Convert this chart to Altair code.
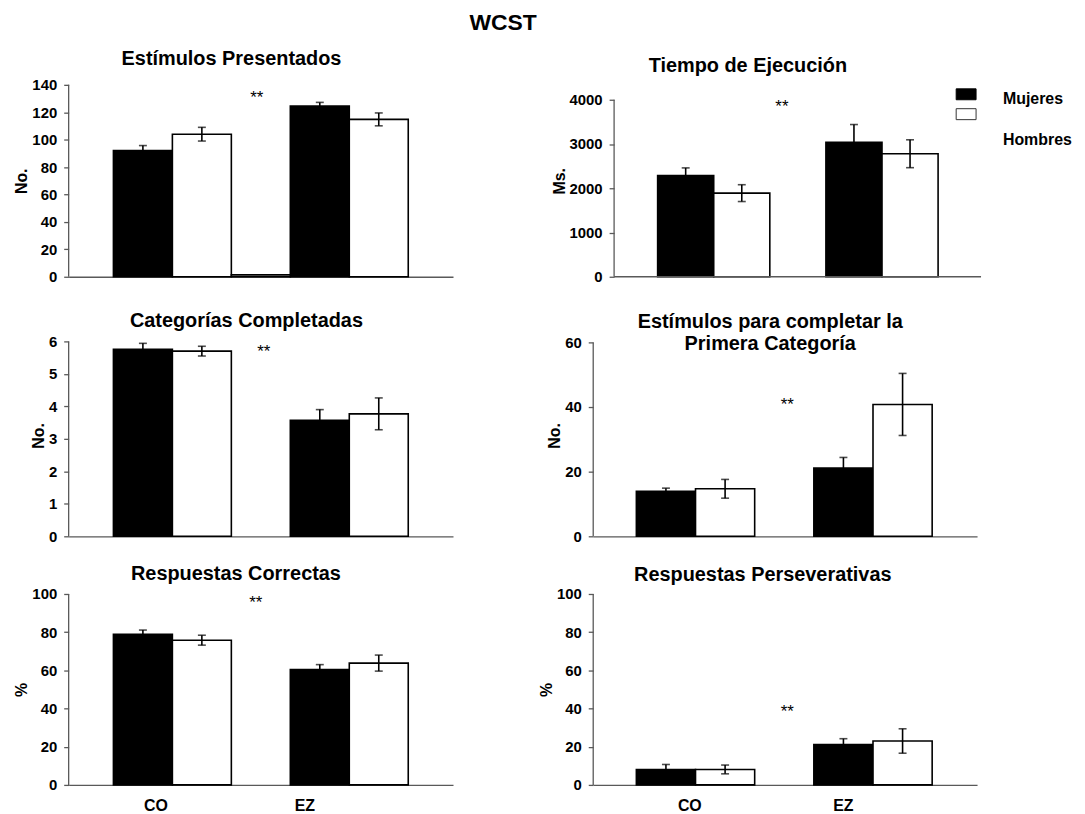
import altair as alt
import pandas as pd

# ---------------- data ----------------
main_title = "WCST"
groups = ["CO", "EZ"]
sexes = ["Mujeres", "Hombres"]
panel_titles = [
    "Estímulos Presentados",
    "Tiempo de Ejecución",
    "Categorías Completadas",
    ["Estímulos para completar la", "Primera Categoría"],
    "Respuestas Correctas",
    "Respuestas Perseverativas",
]
y_titles = ["No.", "Ms.", "No.", "No.", "%", "%"]
y_ticks = [
    [0, 20, 40, 60, 80, 100, 120, 140],
    [0, 1000, 2000, 3000, 4000],
    [0, 1, 2, 3, 4, 5, 6],
    [0, 20, 40, 60],
    [0, 20, 40, 60, 80, 100],
    [0, 20, 40, 60, 80, 100],
]
co_mujeres = [92.0, 2290, 5.76, 13.9, 78.9, 8.1]
co_hombres = [104.0, 1890, 5.70, 14.7, 75.8, 8.1]
ez_mujeres = [124.5, 3040, 3.57, 21.1, 60.4, 21.1]
ez_hombres = [114.8, 2780, 3.77, 40.8, 63.8, 23.0]
co_mujeres_err = [3.7, 170, 0.18, 1.0, 2.2, 2.6]
co_hombres_err = [5.0, 190, 0.15, 2.9, 2.6, 2.3]
ez_mujeres_err = [2.7, 400, 0.33, 3.3, 2.6, 3.1]
ez_hombres_err = [4.7, 315, 0.49, 9.6, 4.2, 6.4]
stray_values = [1.4, None, None, None, None, None]
star_label = "**"
star_y = [133, 3917, 5.79, 41.7, 97.3, 40.0]
legend_labels = sexes

# ---------------- layout / style ----------------
FONT = "Liberation Sans"
AX = "#595959"
slots = ["CO|Mujeres", "CO|Hombres", "gap", "EZ|Mujeres", "EZ|Hombres"]
layout = [
    dict(w=386.5, h=193, tick_px=193, po=0.759, al=0.5, yoff=0, tdx=-29.5, toff=9, sdx=-4),
    dict(w=390, h=193, tick_px=178, po=0.957, al=0.60, yoff=-21, tdx=-39.5, toff=9, sdx=-16),
    dict(w=386.5, h=203, tick_px=196, po=0.759, al=0.5, yoff=0, tdx=-14.5, toff=3, sdx=3),
    dict(w=386, h=203, tick_px=195, po=0.744, al=0.49, yoff=0, tdx=-15, toff=-20, sdx=3),
    dict(w=386.5, h=192, tick_px=192, po=0.759, al=0.5, yoff=0, tdx=-25, toff=3, sdx=-5,
         co_dx=13, ez_dx=-15),
    dict(w=386, h=192, tick_px=192, po=0.744, al=0.49, yoff=0, tdx=-22.5, toff=2, sdx=3,
         co_dx=24, ez_dx=0),
]


def make_panel(i):
    L = layout[i]
    rows = []
    for g, vm, vh, em, eh in [
        ("CO", co_mujeres, co_hombres, co_mujeres_err, co_hombres_err),
        ("EZ", ez_mujeres, ez_hombres, ez_mujeres_err, ez_hombres_err),
    ]:
        rows.append(dict(slot=f"{g}|Mujeres", sexo="Mujeres", value=vm[i],
                         lo=vm[i] - em[i], hi=vm[i] + em[i]))
        rows.append(dict(slot=f"{g}|Hombres", sexo="Hombres", value=vh[i],
                         lo=vh[i] - eh[i], hi=vh[i] + eh[i]))
    df = pd.DataFrame(rows)
    bars_df = df[["slot", "sexo", "value"]].copy()
    if stray_values[i] is not None:
        bars_df = pd.concat([bars_df, pd.DataFrame(
            [dict(slot="gap", sexo="Hombres", value=stray_values[i])])], ignore_index=True)

    top_tick = y_ticks[i][-1]
    ymax = top_tick * L["h"] / L["tick_px"]
    bottom_row = i >= 4
    manual_xdom = L["yoff"] != 0

    if bottom_row:
        xaxis = alt.Axis(
            title=None, values=["CO|Mujeres", "EZ|Mujeres"],
            labelExpr="split(datum.value, '|')[0]",
            labelOffset={"condition": {"test": "datum.value == 'CO|Mujeres'", "value": L["co_dx"]},
                         "value": L["ez_dx"]},
            ticks=False, tickSize=0, labelPadding=13, labelAngle=0,
            labelFontSize=16, domain=True, labelOverlap=False,
        )
    else:
        xaxis = alt.Axis(title=None, labels=False, ticks=False, tickSize=0,
                         domain=not manual_xdom)
    xscale = alt.Scale(domain=slots, paddingInner=0, paddingOuter=L["po"], align=L["al"])
    yscale = alt.Scale(domain=[0, ymax], nice=False, zero=True)
    yaxis = alt.Axis(title=y_titles[i], values=y_ticks[i], domain=False, tickSize=5,
                     labelPadding=7, titlePadding=2, format="d", offset=L["yoff"], grid=False,
                     labelOverlap=False, labelFlush=False, labelBound=False)

    def X():
        return alt.X("slot:N", scale=xscale, axis=xaxis)

    def Y(field):
        return alt.Y(field, scale=yscale, axis=yaxis)

    base = alt.Chart(df)
    bars = alt.Chart(bars_df).mark_bar(stroke="black", strokeWidth=1.6).encode(
        x=X(),
        y=Y("value:Q"),
        fill=alt.Fill("sexo:N", scale=alt.Scale(domain=sexes, range=["black", "white"]), legend=None),
    )
    err = base.mark_rule(color="black", strokeWidth=1.6).encode(
        x=X(), y=Y("lo:Q"), y2="hi:Q")
    cap_lo = base.mark_tick(color="black", size=8, thickness=1.6).encode(x=X(), y=Y("lo:Q"))
    cap_hi = base.mark_tick(color="black", size=8, thickness=1.6).encode(x=X(), y=Y("hi:Q"))
    star = alt.Chart(pd.DataFrame({"slot": ["gap"], "y": [star_y[i]], "t": [star_label]})).mark_text(
        font=FONT, fontSize=17, color="black", dx=L["sdx"], dy=4, baseline="middle"
    ).encode(x=X(), y=Y("y:Q"), text="t:N")
    ydom = alt.Chart(pd.DataFrame({"k": [0]})).mark_rule(color=AX, strokeWidth=1.3).encode(
        x=alt.value(L["yoff"] * -1), y=alt.YDatum(0, scale=yscale, axis=yaxis),
        y2=alt.datum(top_tick))

    layers = [bars, err, cap_lo, cap_hi, star, ydom]
    if manual_xdom:
        layers.append(alt.Chart(pd.DataFrame({"k": [0]})).mark_rule(color=AX, strokeWidth=1.3).encode(
            x=alt.value(-L["yoff"]), x2=alt.value(L["w"]),
            y=alt.YDatum(0, scale=yscale, axis=yaxis)))
    if i == 1:
        lg = pd.DataFrame({"label": [legend_labels[0]]})
        lg2 = pd.DataFrame({"label": [legend_labels[1]]})
        layers += [
            alt.Chart(lg).mark_rect(fill="black", stroke="black", strokeWidth=1).encode(
                x=alt.value(365), x2=alt.value(385), y=alt.value(4), y2=alt.value(15)),
            alt.Chart(lg2).mark_rect(fill="white", stroke="#333333", strokeWidth=1).encode(
                x=alt.value(365), x2=alt.value(385), y=alt.value(24), y2=alt.value(35)),
            alt.Chart(lg).mark_text(font=FONT, fontSize=16, fontWeight="bold", align="left",
                                    baseline="middle", color="black").encode(
                x=alt.value(412), y=alt.value(14), text="label:N"),
            alt.Chart(lg2).mark_text(font=FONT, fontSize=16, fontWeight="bold", align="left",
                                     baseline="middle", color="black").encode(
                x=alt.value(412), y=alt.value(55), text="label:N"),
        ]

    return alt.layer(*layers).properties(
        width=L["w"], height=L["h"],
        title=alt.TitleParams(panel_titles[i], anchor="middle", frame="group",
                              offset=L["toff"], dx=L["tdx"], fontSize=20, lineHeight=22),
    )


panels = [make_panel(i) for i in range(6)]

chart = alt.concat(
    *panels, columns=2, spacing={"row": 58, "column": 140.5}, bounds="flush", align="each"
).properties(
    title=alt.TitleParams(main_title, anchor="middle", fontSize=23, offset=14, dx=-40),
    padding={"left": 5, "top": 2, "right": 5, "bottom": 0},
).configure(font=FONT).configure_view(stroke=None).configure_axis(
    labelFont=FONT, labelFontSize=15, labelFontWeight="bold", labelColor="black",
    titleFont=FONT, titleFontSize=16, titleFontWeight="bold", titleColor="black",
    domainColor=AX, domainWidth=1.3, tickColor=AX, tickWidth=1.3, grid=False,
    labelOverlap=False,
).configure_title(font=FONT, fontWeight="bold", color="black")

chart.save("out.html", embed_options={"renderer": "svg", "actions": False})
